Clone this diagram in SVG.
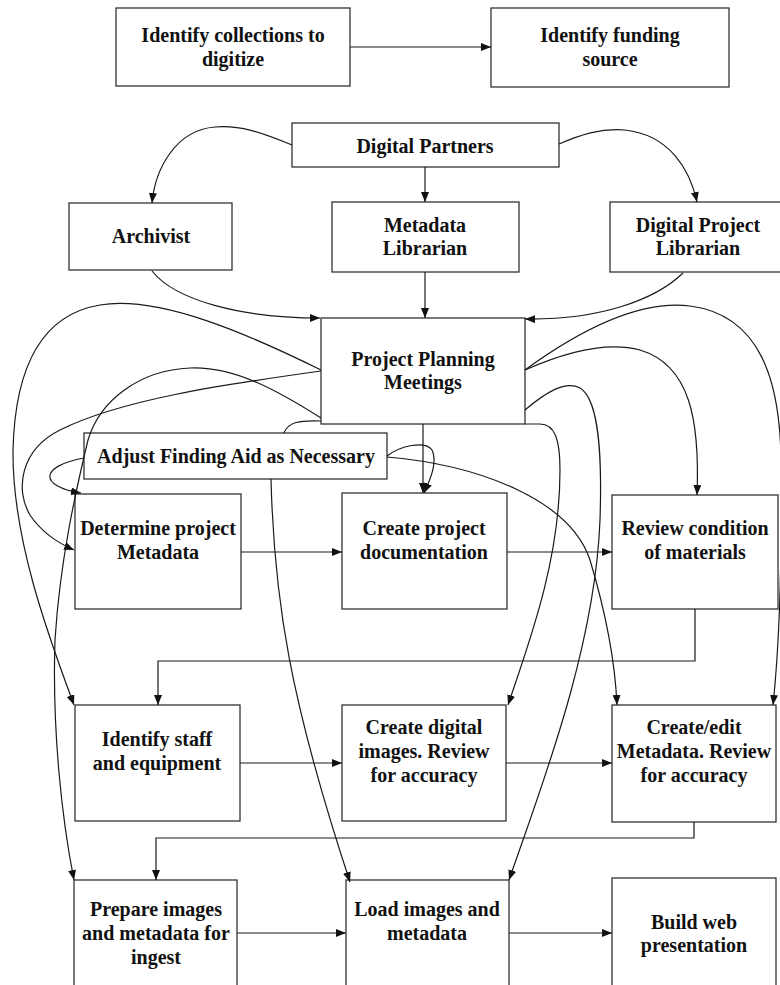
<svg xmlns="http://www.w3.org/2000/svg" width="780" height="985" viewBox="0 0 780 985">
<style>
.box{fill:#fff;stroke:#333;stroke-width:1.3}
.t{font-family:"Liberation Serif","Times New Roman",serif;font-weight:bold;font-size:20px;text-anchor:middle;fill:#111}
.c{fill:none;stroke:#1a1a1a;stroke-width:1.2}
.a{marker-end:url(#ah)}
</style>
<defs>
<marker id="ah" markerUnits="userSpaceOnUse" markerWidth="11" markerHeight="9" refX="10" refY="4" orient="auto">
<path d="M0,0 L10,4 L0,8 z" fill="#111"/>
</marker>
</defs>
<rect width="780" height="985" fill="#fff"/>
<g id="n1"><rect class="box" x="116" y="8" width="234" height="78"/><text class="t" x="233" y="42">Identify collections to</text><text class="t" x="233" y="66">digitize</text></g>
<g id="n2"><rect class="box" x="491" y="8" width="238" height="79"/><text class="t" x="610" y="42">Identify funding</text><text class="t" x="610" y="66">source</text></g>
<g id="n3"><rect class="box" x="292" y="123" width="267" height="44"/><text class="t" x="425" y="153">Digital Partners</text></g>
<g id="n4"><rect class="box" x="69" y="203" width="163" height="67"/><text class="t" x="151" y="243">Archivist</text></g>
<g id="n5"><rect class="box" x="332" y="202" width="187" height="70"/><text class="t" x="425" y="232">Metadata</text><text class="t" x="425" y="255">Librarian</text></g>
<g id="n6"><rect class="box" x="610" y="202" width="172" height="70"/><text class="t" x="698" y="232">Digital Project</text><text class="t" x="698" y="255">Librarian</text></g>
<g id="n7"><rect class="box" x="321" y="318" width="204" height="106"/><text class="t" x="423" y="366">Project Planning</text><text class="t" x="423" y="389">Meetings</text></g>
<g id="n8"><rect class="box" x="84" y="433" width="303" height="46"/><text class="t" x="236" y="463">Adjust Finding Aid as Necessary</text></g>
<g id="n9"><rect class="box" x="75" y="494" width="166" height="115"/><text class="t" x="158" y="535">Determine project</text><text class="t" x="158" y="559">Metadata</text></g>
<g id="n10"><rect class="box" x="342" y="493" width="165" height="116"/><text class="t" x="424" y="535">Create project</text><text class="t" x="424" y="559">documentation</text></g>
<g id="n11"><rect class="box" x="612" y="495" width="166" height="114"/><text class="t" x="695" y="535">Review condition</text><text class="t" x="695" y="559">of materials</text></g>
<g id="n12"><rect class="box" x="75" y="705" width="165" height="116"/><text class="t" x="157" y="746">Identify staff</text><text class="t" x="157" y="770">and equipment</text></g>
<g id="n13"><rect class="box" x="342" y="705" width="164" height="116"/><text class="t" x="424" y="734">Create digital</text><text class="t" x="424" y="758">images. Review</text><text class="t" x="424" y="782">for accuracy</text></g>
<g id="n14"><rect class="box" x="612" y="705" width="164" height="117"/><text class="t" x="694" y="734">Create/edit</text><text class="t" x="694" y="758">Metadata. Review</text><text class="t" x="694" y="782">for accuracy</text></g>
<g id="n15"><rect class="box" x="74" y="880" width="163" height="120"/><text class="t" x="156" y="916">Prepare images</text><text class="t" x="156" y="940">and metadata for</text><text class="t" x="156" y="964">ingest</text></g>
<g id="n16"><rect class="box" x="346" y="880" width="163" height="120"/><text class="t" x="427" y="916">Load images and</text><text class="t" x="427" y="940">metadata</text></g>
<g id="n17"><rect class="box" x="612" y="878" width="164" height="122"/><text class="t" x="694" y="929">Build web</text><text class="t" x="694" y="952">presentation</text></g>
<g id="connectors">
<path class="c a" d="M350,47 L491,47"/>
<path class="c a" d="M425,167 L425,202"/>
<path class="c a" d="M292,145 C260,132 240,125 215,127 C175,130 155,170 152,203"/>
<path class="c a" d="M559,144 C580,135 600,128 625,130 C670,135 690,170 697,202"/>
<path class="c a" d="M152,271 C175,300 240,318 320,318"/>
<path class="c a" d="M425,272 L425,318"/>
<path class="c a" d="M683,273 C655,300 600,320 525,319"/>
<path class="c a" d="M423,424 L423,493"/>
<path class="c a" d="M321,370 C250,335 160,295 100,305 C40,315 15,370 13,450 C12,540 50,640 74,705"/>
<path class="c a" d="M321,371 C220,385 120,400 60,430 C20,450 15,490 30,515 C42,533 58,543 74,550"/>
<path class="c a" d="M321,418 C280,392 235,366 190,368 C140,370 100,400 88,440 C76,490 60,560 55,640 C52,730 62,820 74,880"/>
<path class="c a" d="M84,458 C40,466 38,486 81,493"/>
<path class="c" d="M284,433 C288,422 300,420 321,421"/>
<path class="c a" d="M271,479 C274,600 290,700 350,882"/>
<path class="c a" d="M387,456 C400,446 425,440 432,450 C438,462 430,480 424,493"/>
<path class="c a" d="M387,457 C480,465 570,500 590,560 C605,610 615,660 617,705"/>
<path class="c a" d="M525,370 C580,330 640,300 690,306 C760,315 780,380 781,460 C782,560 780,640 773,705"/>
<path class="c a" d="M525,370 C570,350 610,342 640,350 C690,365 700,420 697,495"/>
<path class="c a" d="M525,410 C545,393 565,380 580,388 C600,400 602,460 600,520 C595,650 540,790 509,880"/>
<path class="c a" d="M525,424 L540,424 C555,424 560,440 560,470 C560,560 530,640 508,705"/>
<path class="c a" d="M241,552 L342,552"/>
<path class="c a" d="M507,552 L612,552"/>
<path class="c a" d="M695,609 L695,661 L158,661 L158,705"/>
<path class="c a" d="M240,763 L342,763"/>
<path class="c a" d="M506,763 L612,763"/>
<path class="c a" d="M694,822 L694,838 L156,838 L156,880"/>
<path class="c a" d="M237,933 L346,933"/>
<path class="c a" d="M509,933 L612,933"/>
</g>
</svg>
